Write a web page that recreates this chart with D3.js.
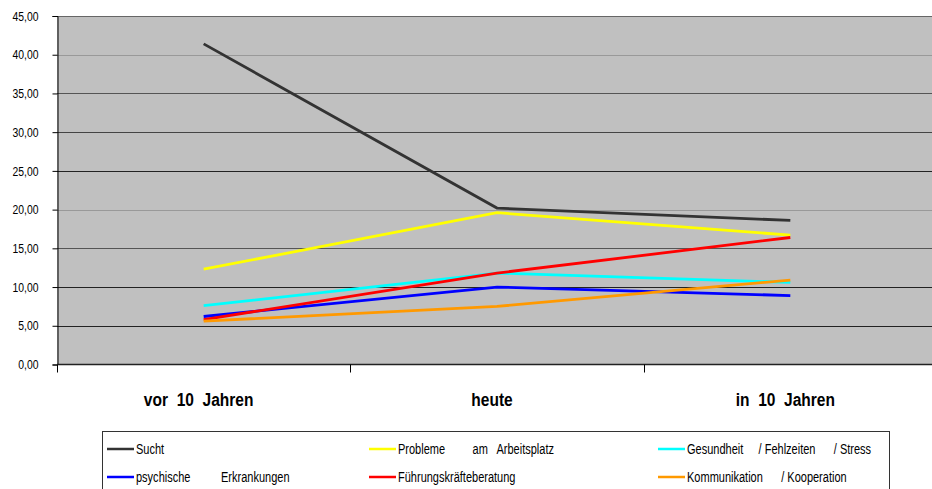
<!DOCTYPE html>
<html>
<head>
<meta charset="utf-8">
<script src="https://cdn.jsdelivr.net/npm/d3@7"></script>
<style>
  html, body { margin: 0; padding: 0; background: #fff; }
  svg { display: block; }
  text { font-family: "Liberation Sans Narrow", "Arial Narrow", "Liberation Sans", Arial, sans-serif; }
</style>
</head>
<body>
<svg id="chart" width="932" height="489"></svg>
<script>
// Zeitpunkte (Kategorien) und Beratungsthemen
const categories = ["vor  10  Jahren", "heute", "in  10  Jahren"];
const seriesNames = [
  "Sucht",
  "Probleme         am   Arbeitsplatz",
  "Gesundheit     / Fehlzeiten      / Stress",
  "psychische          Erkrankungen",
  "Führungskräfteberatung",
  "Kommunikation      / Kooperation"
];
const sucht          = [41.4, 20.2, 18.6];
const probleme       = [12.3, 19.6, 16.7];
const gesundheit     = [7.6, 11.8, 10.6];
const psychische     = [6.2, 10.0, 8.9];
const fuehrung       = [5.8, 11.8, 16.4];
const kommunikation  = [5.6, 7.5, 10.9];
const yTicks = [0, 5, 10, 15, 20, 25, 30, 35, 40, 45];
const seriesColors = ["#333333", "#ffff00", "#00ffff", "#0000ff", "#ff0000", "#ff9900"];

const series = [sucht, probleme, gesundheit, psychische, fuehrung, kommunikation]
  .map((values, i) => ({ name: seriesNames[i], color: seriesColors[i], values }));

const svg = d3.select("#chart");
const plot = { left: 57, right: 937, top: 16, bottom: 364.5 };
const narrow = 0.76;   // horizontale Stauchung der Legendenschrift

const x = d3.scaleBand().domain(categories).range([plot.left, plot.right]);
const y = d3.scaleLinear().domain([0, 45]).range([plot.bottom, plot.top]);
const fmt = v => d3.format(".2f")(v).replace(".", ",");

// Zeichenfläche
svg.append("rect")
  .attr("x", plot.left).attr("y", plot.top)
  .attr("width", plot.right - plot.left).attr("height", plot.bottom - plot.top)
  .attr("fill", "#c0c0c0");

// Gitternetzlinien
const gridColors = ["#222", "#222", "#222", "#555", "#999", "#222", "#444", "#555", "#999", "#666"];
svg.append("g").selectAll("line").data(yTicks.filter(t => t > 0)).join("line")
  .attr("x1", plot.left).attr("x2", plot.right)
  .attr("y1", d => Math.round(y(d)) + 0.5).attr("y2", d => Math.round(y(d)) + 0.5)
  .attr("stroke", (d, i) => gridColors[i + 1]).attr("stroke-width", 1);

// Y-Achse
const yAxis = svg.append("g")
  .attr("transform", `translate(${plot.left + 0.5},0)`)
  .call(d3.axisLeft(y).tickValues(yTicks).tickFormat(fmt).tickSize(5));
yAxis.select(".domain").attr("stroke", "#000");
yAxis.selectAll(".tick line").attr("stroke", "#000");
yAxis.selectAll(".tick text")
  .attr("x", -19 / 0.8)
  .attr("transform", "scale(0.8,1)")
  .attr("font-size", 13).attr("fill", "#000")
  .style("font-family", "'Liberation Sans', Arial, sans-serif");

// X-Achse mit Trennstrichen zwischen den Kategorien
svg.append("line")
  .attr("x1", plot.left).attr("x2", plot.right)
  .attr("y1", plot.bottom).attr("y2", plot.bottom)
  .attr("stroke", "#222").attr("stroke-width", 1.5);
const boundaries = categories.map(c => x(c)).concat([plot.right]);
svg.append("g").selectAll("line").data(boundaries).join("line")
  .attr("x1", d => Math.round(d) + 0.5).attr("x2", d => Math.round(d) + 0.5)
  .attr("y1", plot.bottom).attr("y2", plot.bottom + 8)
  .attr("stroke", "#000");
svg.append("g").selectAll("g").data(categories).join("g")
  .attr("transform", d => `translate(${x(d) + x.bandwidth() / 2 - 5},406)`)
  .append("text")
  .attr("transform", "scale(0.84,1)")
  .attr("text-anchor", "middle")
  .attr("font-size", 18.5).attr("font-weight", "bold")
  .style("white-space", "pre")
  .text(d => d);

// Linien
const line = d3.line()
  .x((v, i) => x(categories[i]) + x.bandwidth() / 2)
  .y(v => y(v));
svg.append("g").selectAll("path").data(series).join("path")
  .attr("d", d => line(d.values))
  .attr("fill", "none")
  .attr("stroke", d => d.color)
  .attr("stroke-width", 2.8)
  .attr("stroke-linejoin", "miter");

// Legende
svg.append("rect")
  .attr("x", 102.5).attr("y", 431.5).attr("width", 787).attr("height", 70)
  .attr("fill", "#fff").attr("stroke", "#333").attr("stroke-width", 1);
const colX = [107, 369, 658];
const rowY = [449, 477];
const items = svg.append("g").selectAll("g").data(series).join("g")
  .attr("transform", (d, i) => `translate(${colX[i % 3]},${rowY[Math.floor(i / 3)]})`);
items.append("line")
  .attr("x1", 0).attr("x2", 27).attr("y1", 0).attr("y2", 0)
  .attr("stroke", d => d.color).attr("stroke-width", 2.5);
items.append("g")
  .attr("transform", "translate(29,5)")
  .append("text")
  .attr("transform", `scale(${narrow},1)`)
  .attr("font-size", 14.5)
  .style("white-space", "pre")
  .text(d => d.name);
</script>
</body>
</html>
